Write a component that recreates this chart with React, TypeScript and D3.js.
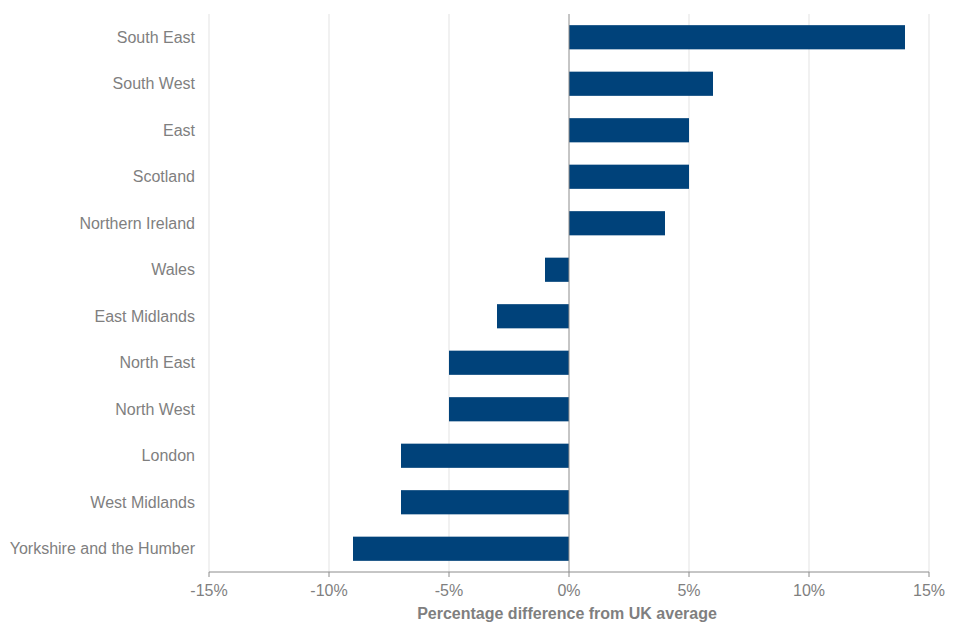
import React from "react";
import * as d3 from "d3";

const regions = [
  "South East",
  "South West",
  "East",
  "Scotland",
  "Northern Ireland",
  "Wales",
  "East Midlands",
  "North East",
  "North West",
  "London",
  "West Midlands",
  "Yorkshire and the Humber",
];
const values = [14, 6, 5, 5, 4, -1, -3, -5, -5, -7, -7, -9];
const xTicks = [-15, -10, -5, 0, 5, 10, 15];
const axisTitle = "Percentage difference from UK average";

const W = 960;
const H = 640;
const left = 209;
const right = 929;
const top = 14;
const bottom = 572;
const font = "'Liberation Sans', Arial, sans-serif";
const textColor = "#7f7f7f";

export default function App() {
  const x = d3.scaleLinear().domain([-15, 15]).range([left, right]);
  const y = d3.scaleBand<string>().domain(regions).range([top, bottom]).paddingInner(0.48).paddingOuter(0.24);

  return (
    <svg width={W} height={H} style={{ position: "absolute", left: 0, top: 0, background: "#fff" }} fontFamily={font}>
      {xTicks.filter((t) => t !== 0).map((t) => (
        <line key={"g" + t} x1={x(t)} x2={x(t)} y1={top} y2={bottom} stroke="#e3e3e3" strokeWidth={1} />
      ))}
      {regions.map((r, i) => {
        const v = values[i];
        return (
          <rect
            key={r}
            x={Math.min(x(0), x(v))}
            y={y(r)!}
            width={Math.abs(x(v) - x(0))}
            height={y.bandwidth()}
            fill="#00427a"
          />
        );
      })}
      <line x1={x(0)} x2={x(0)} y1={top} y2={bottom} stroke="#8c8c8c" strokeWidth={1} />
      <line x1={left} x2={right} y1={bottom} y2={bottom} stroke="#8c8c8c" strokeWidth={1} />
      {xTicks.map((t) => (
        <g key={"t" + t}>
          <line x1={x(t)} x2={x(t)} y1={bottom} y2={bottom + 5} stroke="#8c8c8c" strokeWidth={1} />
          <text x={x(t)} y={bottom + 24} textAnchor="middle" fontSize={16} fill={textColor}>
            {t + "%"}
          </text>
        </g>
      ))}
      {regions.map((r) => (
        <text
          key={"l" + r}
          x={195}
          y={y(r)! + y.bandwidth() / 2}
          dy="0.35em"
          textAnchor="end"
          fontSize={16}
          fill={textColor}
        >
          {r}
        </text>
      ))}
      <text x={567} y={619} textAnchor="middle" fontSize={16} fontWeight="bold" fill={textColor}>
        {axisTitle}
      </text>
    </svg>
  );
}
